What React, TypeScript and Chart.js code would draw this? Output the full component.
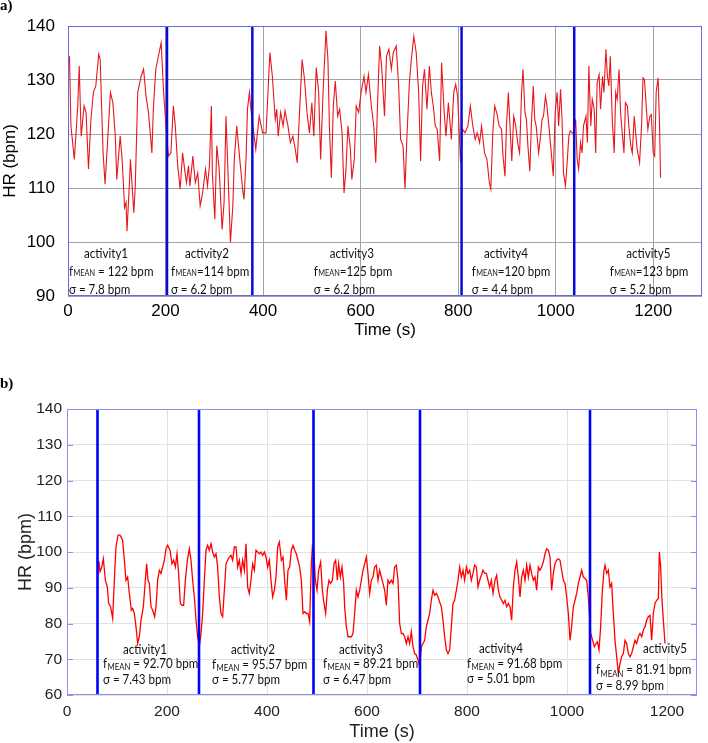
import React, { useEffect, useRef } from "react";
import { Chart, registerables } from "chart.js";

Chart.register(...registerables);

// ---------------- Panel a) data ----------------
const timeA = [
  3, 6, 13, 20, 23, 27, 33, 37, 42, 47, 52, 57, 63, 66, 68, 72, 76, 81, 87, 92, 97, 100, 107, 111, 116, 119, 121, 126, 128, 135, 138, 143, 150, 155, 160, 165, 172, 175, 180, 191, 196, 200, 203,
  206, 211, 216, 220, 225, 230, 235, 240, 243, 247, 250, 256, 261, 266, 271, 276, 282, 286, 290, 294, 296, 301, 305, 310, 316, 320, 324, 329, 333, 338, 341, 346, 351, 358, 361, 365, 368, 372, 375,
  379, 385, 392, 399, 406, 414, 419, 425, 428, 431, 436, 441, 445, 451, 456, 461, 466, 470, 475, 480, 485, 490, 495, 500, 504, 509, 514, 518, 523, 529, 533, 536, 540, 544, 548, 553, 557, 562, 566, 570, 574, 579, 582, 587, 591, 596, 601, 607, 611, 616, 622, 627, 631, 635, 639, 643, 649, 653, 658, 663, 667, 673, 678, 682, 687, 691, 695, 700, 704, 709, 714, 719, 723, 727, 731, 736, 741, 745, 749, 753, 757, 762, 766, 771, 775, 780, 786, 791, 795, 799, 805,
  809, 814, 820, 825, 830, 835, 839, 844, 848, 854, 859, 864, 867, 871, 875, 880, 884, 889, 892, 896, 899, 903, 907, 910, 914, 918, 923, 926, 930, 933, 937, 940, 943, 947, 950, 954, 957, 960, 965, 969, 972, 975, 979, 982, 986, 991, 995, 999, 1003, 1006, 1010, 1013, 1016, 1020, 1023, 1027, 1030, 1034, 1037,
  1041, 1044, 1047, 1051, 1054, 1057, 1062, 1065, 1068, 1072, 1075, 1079, 1082, 1085, 1089, 1092, 1096, 1099, 1103, 1106, 1109, 1112, 1116, 1120, 1123, 1126, 1130, 1133, 1137, 1140, 1143, 1147, 1150, 1154, 1157, 1161, 1164, 1167, 1172, 1176, 1179, 1182, 1186, 1189, 1193, 1196, 1200, 1203, 1206, 1210, 1213, 1215,
];
const hrA = [
  134.4, 121.5, 115.3, 125.2, 132.6, 119.6, 125.2, 124, 113.5, 122.7, 127.7, 128.9, 134.8, 133.8, 127.7, 116.5, 110.7, 118.4, 127.7, 125.8, 119.6, 111.6, 119.6, 115.3, 106.4, 107.3, 102, 111, 115.3, 105.4, 110.4, 127.7, 130.7, 132, 127, 124, 116.5, 124.6, 132, 136.9, 127.7, 122.7, 119,
  115.9, 116.5, 125.2, 121.5, 114.1, 109.8, 116.5, 112.8, 111, 114.1, 110.4, 115.9, 111, 112.8, 106.7, 109.1, 113.5, 110.4, 114.1, 125.2, 112.8, 104.2, 117.8, 113.5, 102.3, 107.3, 123.3, 110.4, 99.9, 106.7, 115.3, 121.5, 116.5, 109.8, 107.9, 115.3, 124.6, 127.7, 124.6,
  121.5, 117.2, 123.3, 120.2, 120.2, 135.1, 130.7, 122.7, 124.6, 119.6, 124, 121.5, 124.3, 121.5, 118.4, 119.6, 117.2, 114.7, 124.6, 133.8, 130.1, 124, 120.2, 125.8, 119.6, 132.3, 127.7, 115.3, 127.7, 139.1, 133.8, 121.5, 111.9, 125.2, 129.8, 123.3, 124.6, 120.2, 109.1, 113.5, 121.5, 117.2, 111.6, 115.3, 125.2, 124, 127.7, 130.7, 127.7, 131, 125.2, 121.5, 114.7, 126.4, 136.3, 132.6, 123.3, 134.4, 135.7, 132, 135.1, 136.3, 128.9, 119, 117.8, 109.8, 119.6, 129.5, 133.8, 138.1, 135.1, 127.7, 115, 128.9, 132, 124.6, 132.6, 127.7, 125.2, 121.5, 120.9, 115, 133.2, 124.6, 119.6, 125.8, 119, 127.7, 129.2, 127, 114.7,
  120.9, 120.2, 121.5, 125.2, 121.5, 119, 120.2, 118.4, 121.5, 116.5, 115.3, 111, 109.8, 120.2, 125.2, 123.6, 121.5, 120.9, 115.9, 112.2, 121.5, 127.7, 120.2, 115, 123.3, 121.5, 117.8, 116.5, 127.7, 132, 124, 122.7, 117.8, 113.1, 121.5, 128.9, 122.7, 121.5, 116.5, 119.6, 122.7, 123.3, 127, 125.2, 121.5, 116.5, 112.2, 124, 127.7, 121.5, 128.3, 122.7, 112.8, 110.4, 114.1, 119.6, 120.6, 120.2, 120.2,
  122.7, 115.3, 113.5, 118.4, 116.5, 121.5, 123.3, 118.4, 132.6, 121.5, 126.4, 124.6, 116.5, 129.5, 131, 124.6, 130.7, 127.7, 135.7, 130.7, 128.9, 134.4, 122.7, 116.5, 127.7, 126.4, 132, 124, 119.6, 116.5, 125.8, 125.2, 121.5, 117.8, 116.5, 123.3, 120.2, 117.2, 114.7, 121.5, 130.4, 130.1, 124.6, 120.9, 123.3, 123.6, 116.5, 115.9, 127.7, 130.4, 121.5, 111.9,
];
const boundariesA = [203, 378, 807, 1038];
const xTicksA = [0, 200, 400, 600, 800, 1000, 1200];
const yTicksA = [90, 100, 110, 120, 130, 140];
const meanTextA = [" = 122 bpm", "=114 bpm", "=125 bpm", "=120 bpm", "=123 bpm"];
const sigmaTextA = ["σ = 7.8 bpm", "σ = 6.2 bpm", "σ = 6.2 bpm", "σ = 4.4 bpm", "σ = 5.2 bpm"];

// ---------------- Panel b) data ----------------
const timeB = [
  61, 63.5, 66, 69, 72.7, 76.7, 80.7, 83.3, 87.3, 91.3, 95.3, 98, 102, 106, 111.3, 114.7, 118, 121.3, 124.7, 128.7, 131.3, 134.7, 138, 141.3, 144.7, 148, 152.7, 156.7, 159.3, 162, 164.7, 168, 171.3, 175.3, 178, 181.3, 184.7, 188, 191.3, 194.7, 198, 201.3, 206, 210, 213.3, 216.7, 220, 223.3, 226.7, 230, 233.3, 236.7, 240.7, 244.7, 248, 251.3, 255.3, 258, 261.3, 264.7,
  268, 271.3, 274.7, 278, 281.3, 284.7, 288, 291.3, 294.7, 298, 301.3, 304.7, 308, 311.3, 314.7, 318, 321.3, 324.7, 328, 331.3, 334.7, 338, 341.3, 344.7, 348, 351.3, 354.7, 358, 361.3, 364.7, 368, 371.3, 374.7, 378, 381.3, 384.7, 388, 391.3, 394.7, 398, 401.3, 404.7, 408, 411.3, 414.7, 418, 421.3, 424.7, 428.7, 432, 435.3, 438.7, 442, 445.3, 448.7, 452, 455.3, 458.7, 462, 465.3, 468.7, 472, 475.3, 478.7, 482, 485.3, 488.7, 490.7,
  494, 496.7, 500, 503.3, 507.3, 510.7, 514, 517.3, 520.7, 524, 527.3, 530.7, 534, 537.3, 540.7, 543.3, 546.7, 550, 553.3, 555.3, 558.7, 562, 565.3, 568.7, 572, 575.3, 578.7, 582, 585.3, 588.7, 592, 595.3, 598.7, 602, 605.3, 608.7, 612, 615.3, 618.7, 622, 625.3, 628.7, 632, 635.3, 638.7, 642, 645.3, 648.7, 652, 655.3, 658.7, 662, 665.3, 668.7, 672, 675.3, 678.7, 682, 685.3, 688.7, 692, 695.3, 698.7, 702, 705.3,
  708.7, 712, 715.3, 718.7, 722, 725.3, 728.7, 732, 735.3, 738.7, 742, 745.3, 748.7, 752, 755.3, 758.7, 762, 765.3, 768.7, 772, 775.3, 778.7, 782, 785.3, 788.7, 792, 795.3, 798.7, 802, 805.3, 808.7, 812, 815.3, 818.7, 822, 825.3, 828.7, 832, 835.3, 838.7, 842, 845.3, 848.7, 852, 856, 859.3, 862.7, 866, 869.3, 872.7, 876, 879.3, 882.7, 886, 889.3, 892.7, 896, 899.3, 902.7, 906, 909.3, 912.7, 916, 919.3, 922.7, 926, 929.3, 932.7, 936, 939.3, 942.7, 946, 949.3, 952.7, 956, 959.3, 962.7, 966, 969.3, 972.7, 976, 979.3, 982.7, 986, 989.3, 992.7, 996, 999.3, 1002.7, 1006, 1009.3, 1012.7, 1016, 1019.3, 1022.7, 1026, 1029.3, 1032.7, 1036, 1039.3, 1042.7,
  1047.3, 1051.3, 1054.7, 1058, 1060.7, 1064, 1067.3, 1070.7, 1074, 1076, 1079.3, 1082.7, 1086, 1089.3, 1092.7, 1096, 1099.3, 1102.7, 1106, 1109.3, 1112.7, 1116, 1119.3, 1122.7, 1126, 1129.3, 1132.7, 1136, 1139.3, 1142.7, 1146, 1149.3, 1152.7, 1156, 1159.3, 1162.7, 1166, 1169.3, 1172.7, 1176, 1179.3, 1182.7, 1184.7, 1187.3, 1190, 1192.7, 1196,
];
const hrB = [
  93, 97.5, 94.5, 95.5, 98.1, 92.1, 90.2, 85.6, 84.7, 81.4, 94, 101.4, 104.7, 104.7, 103.3, 97.7, 92.1, 93, 88.4, 83.7, 84.2, 82.8, 79.1, 74.4, 76.3, 80.9, 84.7, 92.1, 96.7, 92.1, 91.2, 84.7, 83.7, 81.9, 84.7, 92.1, 94.9, 94, 95.8, 97.7, 100.9, 101.9, 100.5, 96.7, 97.7, 95.8, 99.5, 94, 85.6, 85.1, 85.1, 92.1, 97.7, 100.9, 97.7, 92.1, 86.5, 80.9, 76.3, 73.5,
  77.2, 82.8, 92.1, 100.5, 101.9, 100.5, 102.3, 100, 98.6, 99.5, 95.8, 87.4, 82.8, 81.9, 89.3, 96.7, 97.7, 98.6, 99.1, 97.7, 101.4, 101.4, 95.8, 97.7, 94, 97.7, 94.9, 102.3, 90.2, 88.4, 92.1, 96.7, 94.9, 100.5, 100, 99.5, 100, 99.1, 100, 98.6, 95.8, 97.7, 92.1, 87.4, 89.3, 93, 101.4, 102.8, 97.7, 98.6, 92.1, 86.5, 94.9, 95.8, 100.5, 101.9, 100.5, 99.5, 97.7, 95.8, 92.1, 82.8, 83.3, 82.8, 82.8, 80.5, 96.7, 101.4,
  99.5, 92.1, 89.3, 94.9, 97.2, 89.3, 85.6, 82.8, 89.3, 92.1, 91.2, 92.1, 96.7, 97.7, 92.1, 96.7, 93, 95.8, 91.2, 84.7, 79.1, 76.3, 76.3, 76.3, 77.2, 82.8, 89.3, 87.4, 89.3, 92.1, 94.9, 96.7, 98.6, 94, 88.4, 92.1, 93, 95.8, 96.3, 92.1, 94.9, 93, 91.2, 89.3, 85.1, 92.1, 91.2, 92.1, 91.2, 95.8, 96.3, 92.1, 80, 77.2, 77.2, 76.3, 74.4, 76.3, 74.4, 77.7, 73.5, 71.6, 71.2, 69.8, 67.9,
  73.5, 74.4, 75.3, 79.1, 80.9, 82.8, 86.5, 89.3, 87.9, 88.4, 87.4, 86, 84.7, 80.9, 76.3, 72.6, 71.6, 72.6, 79.1, 85.6, 86.5, 89.3, 92.1, 95.8, 93, 94.9, 92.1, 95.8, 94, 94.9, 92.1, 94, 96.3, 95.8, 90.2, 92.1, 93.5, 94.9, 94, 94, 92.1, 90.2, 92.1, 88.4, 92.1, 93.5, 89.3, 87.4, 86.5, 85.6, 86.5, 84.7, 85.6, 84.7, 80.9, 90.2, 94.9, 97.2, 93, 87.4, 93, 94.9, 92.1, 96.3, 93, 96.3, 94, 92.1, 93, 89.3, 95.8, 94.9, 95.8, 97.2, 99.5, 100.9, 100.5, 98.6, 89.3, 94, 96.7, 97.7, 98.1, 97.7, 94.9, 92.1, 91.2, 87.4, 82.8, 75.3, 79.1, 84.7, 86.5, 88.4, 91.2, 93, 94.9, 93, 92.6, 92.1, 87.4,
  77.2, 75.3, 73.5, 74.4, 74.9, 72.6, 79.1, 89.3, 94.9, 96.3, 94, 94.9, 90.2, 91.2, 82.8, 75.3, 70.7, 66, 68.8, 70.7, 71.6, 75.3, 74.4, 71.6, 70.7, 71.6, 73.5, 75.3, 74.4, 76.3, 77.2, 76.3, 78.1, 79.1, 80.9, 81.9, 82.3, 75.3, 82.8, 85.6, 86.5, 87, 100, 95.8, 86.5, 80.9, 74.4,
];
const boundariesB = [61, 264, 493, 706, 1046];
const xTicksB = [0, 200, 400, 600, 800, 1000, 1200];
const yTicksB = [60, 70, 80, 90, 100, 110, 120, 130, 140];
const meanTextB = [" = 92.70 bpm", " = 95.57 bpm", " = 89.21 bpm", " = 91.68 bpm", " = 81.91 bpm"];
const sigmaTextB = ["σ = 7.43 bpm", "σ = 5.77 bpm", "σ = 6.47 bpm", "σ = 5.01 bpm", "σ = 8.99 bpm"];

const activityNames = ["activity1", "activity2", "activity3", "activity4", "activity5"];

// ---------------- label placement (data-space anchors) ----------------
const labelPosA = {
  nameX: [78, 285, 582, 898, 1190],
  leftX: [2, 211, 504, 828, 1111],
  nameY: [98, 98, 98, 98, 98],
  meanY: [94.6, 94.6, 94.6, 94.6, 94.6],
  sigmaY: [91.3, 91.3, 91.3, 91.3, 91.3],
};
const labelPosB = {
  nameX: [156, 372, 588, 868, 1196],
  leftX: [72, 290, 512, 800, 1058],
  nameY: [72.9, 72.9, 72.9, 73.1, 73.1],
  meanY: [69, 68.8, 69, 69.1, 67.3],
  sigmaY: [64.6, 64.4, 64.6, 64.7, 62.9],
};

const TICK_FONT = "'Liberation Sans', Arial, sans-serif";
const NOTE_FONT = "Lato, 'Liberation Sans', sans-serif";

type PanelStyle = {
  frame: string;
  blue: string;
  blueWidth: number;
  noteSize: number;
  subSize: number;
  subShift: number;
  squeeze: number;
  inwardTicks: boolean;
};

function makeOverlay(
  boundaries: number[],
  pos: typeof labelPosA,
  means: string[],
  sigmas: string[],
  yTicks: number[],
  st: PanelStyle
) {
  return {
    id: "overlay",
    afterDatasetsDraw(chart: any) {
      const { ctx, chartArea, scales } = chart;
      const xs = scales.x;
      const ys = scales.y;
      ctx.save();
      // activity boundaries
      ctx.strokeStyle = st.blue;
      ctx.lineWidth = st.blueWidth;
      boundaries.forEach((b) => {
        const px = xs.getPixelForValue(b);
        ctx.beginPath();
        ctx.moveTo(px, chartArea.top);
        ctx.lineTo(px, chartArea.bottom);
        ctx.stroke();
      });
      // frame
      ctx.strokeStyle = st.frame;
      ctx.lineWidth = 1;
      ctx.strokeRect(
        Math.round(chartArea.left) + 0.5,
        Math.round(chartArea.top) + 0.5,
        Math.round(chartArea.right - chartArea.left) - 1,
        Math.round(chartArea.bottom - chartArea.top) - 1
      );
      if (st.inwardTicks) {
        yTicks.forEach((v) => {
          const py = Math.round(ys.getPixelForValue(v)) + 0.5;
          ctx.beginPath();
          ctx.moveTo(chartArea.left, py);
          ctx.lineTo(chartArea.left + 6, py);
          ctx.moveTo(chartArea.right, py);
          ctx.lineTo(chartArea.right - 6, py);
          ctx.stroke();
        });
      }
      // annotations (slightly condensed text, like the narrow original face)
      const main = `${st.noteSize}px ${NOTE_FONT}`;
      const sub = `${st.subSize}px ${NOTE_FONT}`;
      ctx.fillStyle = "#111";
      ctx.textBaseline = "alphabetic";
      const base = st.noteSize * 0.38;
      const k = st.squeeze;
      const txt = (s: string, x: number, y: number, align: string) => {
        ctx.save();
        ctx.translate(x, y);
        ctx.scale(k, 1);
        ctx.textAlign = align;
        ctx.fillText(s, 0, 0);
        ctx.restore();
      };
      activityNames.forEach((name, i) => {
        ctx.font = main;
        txt(name, xs.getPixelForValue(pos.nameX[i]), ys.getPixelForValue(pos.nameY[i]) + base, "center");
        let x = xs.getPixelForValue(pos.leftX[i]);
        const ym = ys.getPixelForValue(pos.meanY[i]) + base;
        txt("f", x, ym, "left");
        x += (ctx.measureText("f").width + 0.5) * k;
        ctx.font = sub;
        txt("MEAN", x, ym + st.subShift, "left");
        x += ctx.measureText("MEAN").width * k;
        ctx.font = main;
        txt(means[i], x, ym, "left");
        txt(sigmas[i], xs.getPixelForValue(pos.leftX[i]), ys.getPixelForValue(pos.sigmaY[i]) + base, "left");
      });
      ctx.restore();
    },
  };
}

function PanelA() {
  const ref = useRef<HTMLCanvasElement>(null);
  useEffect(() => {
    const chart = new Chart(ref.current as HTMLCanvasElement, {
      type: "line",
      data: {
        datasets: [
          {
            data: timeA.map((t, i) => ({ x: t, y: hrA[i] })),
            borderColor: "#e8161e",
            borderWidth: 1.1,
            pointRadius: 0,
            tension: 0,
            fill: false,
          },
        ],
      },
      options: {
        animation: false,
        responsive: false,
        layout: { padding: { top: 26, right: 6, left: 0, bottom: 0 } },
        plugins: { legend: { display: false }, tooltip: { enabled: false } },
        scales: {
          x: {
            type: "linear",
            min: 0,
            max: 1300,
            afterBuildTicks: (s: any) => {
              s.ticks = xTicksA.map((v) => ({ value: v }));
            },
            afterFit: (s: any) => {
              s.height = 49;
            },
            grid: { color: "#a3a3a3", lineWidth: 1, drawTicks: false },
            border: { display: false },
            ticks: {
              color: "#000",
              font: { family: TICK_FONT, size: 17 },
              padding: 5,
              maxRotation: 0,
              autoSkip: false,
              callback: (v: any) => String(v),
            },
            title: {
              display: true,
              text: "Time (s)",
              color: "#000",
              font: { family: TICK_FONT, size: 17 },
              padding: { top: 0, bottom: 4 },
            },
          },
          y: {
            type: "linear",
            min: 90,
            max: 140,
            afterBuildTicks: (s: any) => {
              s.ticks = yTicksA.map((v) => ({ value: v }));
            },
            afterFit: (s: any) => {
              s.width = 68;
            },
            grid: { color: "#a3a3a3", lineWidth: 1, drawTicks: false },
            border: { display: false },
            ticks: {
              color: "#000",
              font: { family: TICK_FONT, size: 17 },
              padding: 13,
              callback: (v: any) => String(v),
            },
            title: {
              display: true,
              text: "HR (bpm)",
              color: "#000",
              font: { family: TICK_FONT, size: 17 },
              padding: { top: 0, bottom: 0 },
            },
          },
        },
      } as any,
      plugins: [
        makeOverlay(boundariesA, labelPosA, meanTextA, sigmaTextA, yTicksA, {
          frame: "#6a6ae0",
          blue: "#0a0ad8",
          blueWidth: 2.5,
          noteSize: 13.5,
          subSize: 8.5,
          subShift: 0,
          squeeze: 0.86,
          inwardTicks: false,
        }),
      ],
    });
    return () => chart.destroy();
  }, []);
  return <canvas ref={ref} width={708} height={345} style={{ display: "block" }} />;
}

function PanelB() {
  const ref = useRef<HTMLCanvasElement>(null);
  useEffect(() => {
    const chart = new Chart(ref.current as HTMLCanvasElement, {
      type: "line",
      data: {
        datasets: [
          {
            data: timeB.map((t, i) => ({ x: t, y: hrB[i] })),
            borderColor: "#ff0000",
            borderWidth: 1.3,
            pointRadius: 0,
            tension: 0,
            fill: false,
          },
        ],
      },
      options: {
        animation: false,
        responsive: false,
        layout: { padding: { top: 24, right: 11, left: 0, bottom: 0 } },
        plugins: { legend: { display: false }, tooltip: { enabled: false } },
        scales: {
          x: {
            type: "linear",
            min: 0,
            max: 1260,
            afterBuildTicks: (s: any) => {
              s.ticks = xTicksB.map((v) => ({ value: v }));
            },
            afterFit: (s: any) => {
              s.height = 48;
            },
            grid: { color: "#e2e2e2", lineWidth: 1, drawTicks: false },
            border: { display: false },
            ticks: {
              color: "#222",
              font: { family: TICK_FONT, size: 15.5 },
              padding: 7,
              maxRotation: 0,
              autoSkip: false,
              callback: (v: any) => String(v),
            },
            title: {
              display: true,
              text: "Time (s)",
              color: "#222",
              font: { family: TICK_FONT, size: 18 },
              padding: { top: 0, bottom: 0 },
            },
          },
          y: {
            type: "linear",
            min: 60,
            max: 140,
            afterBuildTicks: (s: any) => {
              s.ticks = yTicksB.map((v) => ({ value: v }));
            },
            afterFit: (s: any) => {
              s.width = 67;
            },
            grid: { color: "#e2e2e2", lineWidth: 1, drawTicks: false },
            border: { display: false },
            ticks: {
              color: "#222",
              font: { family: TICK_FONT, size: 15.5 },
              padding: 5,
              callback: (v: any) => String(v),
            },
            title: {
              display: true,
              text: "HR (bpm)",
              color: "#222",
              font: { family: TICK_FONT, size: 18 },
              padding: { top: 15, bottom: 0 },
            },
          },
        },
      } as any,
      plugins: [
        makeOverlay(boundariesB, labelPosB, meanTextB, sigmaTextB, yTicksB, {
          frame: "#8e8ef2",
          blue: "#0000ff",
          blueWidth: 2.6,
          noteSize: 13.5,
          subSize: 9,
          subShift: 2.5,
          squeeze: 0.86,
          inwardTicks: true,
        }),
      ],
    });
    return () => chart.destroy();
  }, []);
  return <canvas ref={ref} width={708} height={358} style={{ display: "block" }} />;
}

export default function App() {
  const labelStyle: React.CSSProperties = {
    position: "absolute",
    left: 0,
    fontFamily: "'Liberation Serif', 'Times New Roman', serif",
    fontWeight: "bold",
    fontSize: 15,
    lineHeight: "15px",
  };
  return (
    <div style={{ position: "absolute", left: 0, top: 0, width: 708, height: 743, background: "#fff", overflow: "hidden" }}>
      <div style={{ position: "absolute", left: 0, top: 0 }}>
        <PanelA />
      </div>
      <div style={{ position: "absolute", left: 0, top: 385 }}>
        <PanelB />
      </div>
      <div style={{ ...labelStyle, top: -2 }}>a)</div>
      <div style={{ ...labelStyle, top: 376 }}>b)</div>
    </div>
  );
}
